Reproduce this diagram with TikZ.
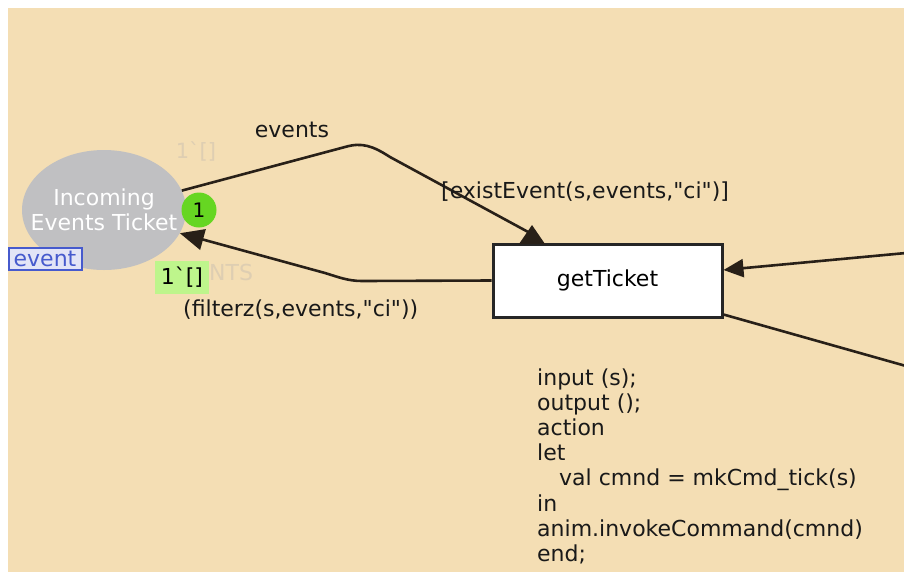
\documentclass[tikz,border=0pt]{standalone}
\usepackage{fontspec}
\setmainfont{DejaVu Sans}[Ligatures=TeXOff]
\usetikzlibrary{arrows.meta,shapes.geometric}
\definecolor{bg}{RGB}{244,222,180}
\definecolor{placegray}{RGB}{192,192,194}
\definecolor{arcc}{RGB}{40,32,24}
\definecolor{tokgreen}{RGB}{102,214,34}
\definecolor{boxgreen}{RGB}{190,245,140}
\definecolor{faint}{RGB}{222,206,178}
\definecolor{typeblue}{RGB}{70,90,205}
\definecolor{typefill}{RGB}{226,228,246}
\definecolor{txt}{RGB}{25,25,25}
\begin{document}
\begin{tikzpicture}[x=1pt,y=-1pt,
  font=\fontsize{22}{25}\selectfont,
  place/.style={ellipse,fill=placegray,inner sep=0pt},
  trans/.style={rectangle,draw=black!85,line width=3pt,fill=white,inner sep=0pt},
  arc/.style={draw=arcc,line width=2.6pt},
  lbl/.style={inner sep=0pt,text=txt},
  codeline/.style={inner sep=0pt,anchor=base west,text=txt}]
\path[use as bounding box,fill=white] (0,0) rectangle (904,574);
\fill[bg] (8,8) rectangle (904,572);
% place and transition
\node[place,minimum width=164pt,minimum height=120pt] (p) at (104,210) {};
\node[inner sep=0pt,text=white,align=center] (ptxt) at (p.center) {Incoming\\Events Ticket};
\node[trans,minimum width=229pt,minimum height=73pt] (t) at (607.5,280.5) {getTicket};
% coordinates for arcs
\coordinate (k1) at (345,147);
\coordinate (k2) at (390,157);
\coordinate (h1) at (530,233);
\coordinate (k3) at (362,281);
\coordinate (k4) at (325,273);
\coordinate (rin) at (906,253);
\coordinate (rout) at (906,366);
% arcs
\draw[arc] (p.14) -- (k1) .. controls (362,142) and (373,146) .. (k2) -- (h1);
\fill[arcc] (532,225) -- (545,244) -- (519,244) -- cycle;
\draw[arc,-{Triangle[length=24pt,width=21pt]}] (t.west) -- (k3) .. controls (348,281) and (338,277) .. (k4) -- (p.-17);
\draw[arc,-{Triangle[length=20pt,width=18pt]}] (rin) -- ([yshift=10.5pt]t.east);
\draw[arc] ([yshift=4pt]t.south east) -- (rout);
% token
\node[circle,fill=tokgreen,minimum size=35pt,inner sep=0pt,font=\fontsize{20}{22}\selectfont,text=black] (tok) at (199,210) {1};
% labels
\node[lbl] (lev) at (292,130) {events};
\node[lbl,anchor=west] (lguard) at (441,192) {[existEvent(s,events,"ci")]};
\node[lbl,anchor=west] (lfil) at (183,310) {(filterz(s,events,"ci"))};
\node[inner sep=0pt,text=faint,font=\fontsize{21}{22}\selectfont] (init) at (196,151) {1`[]};
\node[inner sep=0pt,text=faint,anchor=west] (nts) at (209,272) {NTS};
\node[draw=typeblue,line width=2pt,fill=typefill,text=typeblue,inner sep=0pt,minimum width=73pt,minimum height=22pt] (ty) at (45,258.5) {event};
\node[fill=boxgreen,inner sep=0pt,minimum width=54pt,minimum height=33pt,text=black,font=\fontsize{22}{24}\selectfont] (mk) at (182,277.5) {1`[]};
% code
\node[codeline] (c1) at (537,385) {input (s);};
\node[codeline] (c2) at (537,410.2) {output ();};
\node[codeline] (c3) at (537,435.4) {action};
\node[codeline] (c4) at (537,460.6) {let};
\node[codeline] (c5) at (559,485.8) {val cmnd = mkCmd\_tick(s)};
\node[codeline] (c6) at (537,511) {in};
\node[codeline] (c7) at (537,536.2) {anim.invokeCommand(cmnd)};
\node[codeline] (c8) at (537,561.4) {end;};
\end{tikzpicture}
\end{document}
